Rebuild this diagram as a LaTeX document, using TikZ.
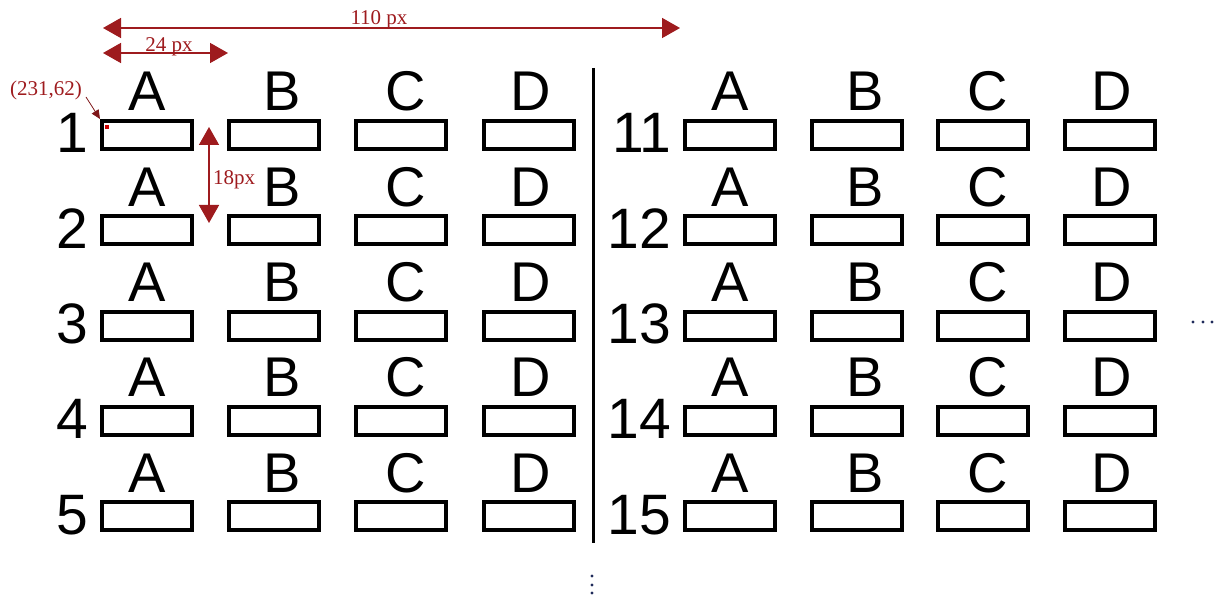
\documentclass[tikz,border=0pt]{standalone}
\usepackage{fontspec}
\setmainfont{Liberation Serif}
\newfontfamily\gridfont{Liberation Sans}
\usetikzlibrary{arrows.meta, positioning}
\definecolor{dimred}{HTML}{9E1B1E}
\definecolor{dotnavy}{HTML}{1F2A5A}

\begin{document}
\begin{tikzpicture}[x=1pt, y=-1pt,
    cell/.style={draw, line width=4pt, minimum width=90pt, minimum height=28pt, inner sep=0pt},
    letter/.style={font=\gridfont\fontsize{56}{56}\selectfont, inner sep=0pt, anchor=base},
    rownum/.style={font=\gridfont\fontsize{57}{57}\selectfont, inner sep=0pt, anchor=base east},
    dimarrow/.style={dimred, line width=1.6pt, {Triangle[length=18pt,width=20pt]}-{Triangle[length=18pt,width=20pt]}},
    dimlabel/.style={text=dimred, font=\fontsize{21}{21}\selectfont, inner sep=0pt},
    ptr/.style={dimred!80!black, line width=0.8pt, -{Triangle[length=9pt,width=8pt]}}
  ]
  \useasboundingbox (0,0) rectangle (1218,596);

  % answer boxes, left block (1-5) and right block (11-15)
  \foreach \r in {1,...,5}{
    \pgfmathtruncatemacro\rr{\r+10}
    \foreach \c/\l/\dx in {0/A/0,1/B/8,2/C/4,3/D/2}{
      \node[cell] (L\r\l) at ({147+127.2*\c},{135+95.25*(\r-1)}) {};
      \node[letter] (L\r\l-t) at ([xshift=\dx pt, yshift=8pt]L\r\l.north) {\l};
      \node[cell] (R\r\l) at ({730+126.7*\c},{135+95.25*(\r-1)}) {};
      \node[letter] (R\r\l-t) at ([xshift=\dx pt, yshift=8pt]R\r\l.north) {\l};
    }
    \node[rownum] (nL\r) at ([xshift=-11.5pt, yshift=-2pt]L\r A.south west) {\r};
    \node[rownum] (nR\r) at ([xshift=-11.5pt, yshift=-2pt]R\r A.south west) {\rr};
  }

  % divider
  \coordinate (divtop) at (593,68);
  \coordinate (divbot) at (593,543);
  \draw[line width=3pt] (divtop) -- (divbot);

  % more columns / rows
  \foreach \x in {1193,1203,1212} \fill[dotnavy] (\x,322) circle (1.6pt);
  \foreach \y in {576,585,593} \fill[dotnavy] (592,\y) circle (1.6pt);

  % dimensions
  \coordinate (w110a) at (103,28);
  \coordinate (w110b) at (680,28);
  \draw[dimarrow] (w110a) -- (w110b);
  \node[dimlabel, anchor=base] (lbl110) at (379,25) {110 px};

  \coordinate (w24a) at (103,53);
  \coordinate (w24b) at (228,53);
  \draw[dimarrow] (w24a) -- (w24b);
  \node[dimlabel, anchor=base] (lbl24) at (169,52) {24 px};

  \coordinate (h18a) at (209,127);
  \coordinate (h18b) at (209,223);
  \draw[dimarrow] (h18a) -- (h18b);
  \node[dimlabel, anchor=base west] (lbl18) at (213,185) {18px};

  % origin of the first box
  \node[dimlabel, anchor=base west] (crd) at (10,96) {(231,62)};
  \coordinate (ptrstart) at (86,97);
  \draw[ptr] (ptrstart) -- (L1A.north west);
  \fill[red!80!black] (105,125) rectangle (109,129);
\end{tikzpicture}
\end{document}
